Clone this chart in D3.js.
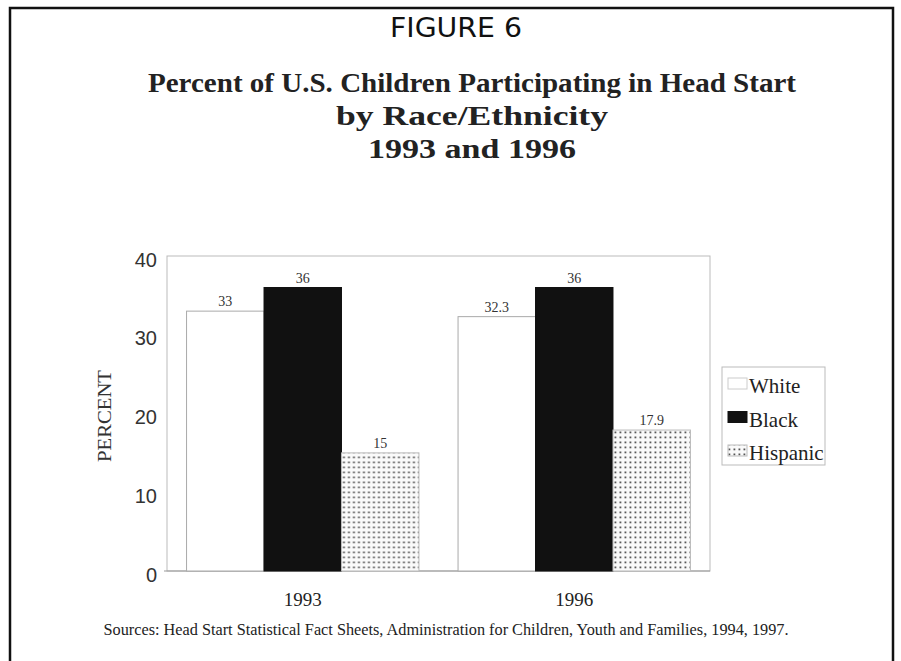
<!DOCTYPE html>
<html><head><meta charset="utf-8">
<script src="https://cdn.jsdelivr.net/npm/d3@7/dist/d3.min.js"></script>
<style>body{margin:0;background:#fff}svg{display:block}</style>
</head><body>
<script>
const years = ["1993", "1996"];
const groups = ["White", "Black", "Hispanic"];
const white = [33, 32.3];
const black = [36, 36];
const hispanic = [15, 17.9];
const valueLabels = [["33", "36", "15"], ["32.3", "36", "17.9"]];
const yTicks = [0, 10, 20, 30, 40];

(function () {
const W = 901, H = 661;
const serif = "'Liberation Serif',serif";
const svg = d3.select("body").append("svg").attr("width", W).attr("height", H);

const defs = svg.append("defs");
const pat = defs.append("pattern").attr("id", "dots").attr("patternUnits", "userSpaceOnUse")
  .attr("width", 5).attr("height", 5);
pat.append("rect").attr("width", 5).attr("height", 5).attr("fill", "#fafafa");
pat.append("rect").attr("x", 1.5).attr("y", 1.5).attr("width", 1.8).attr("height", 1.8).attr("fill", "#555");

// outer frame
svg.append("path").attr("d", `M10,${H} V8 H893 V${H}`).attr("fill", "none")
  .attr("stroke", "#111").attr("stroke-width", 2.5);

// titles
svg.append("text").attr("x", 456).attr("y", 37).attr("text-anchor", "middle")
  .attr("textLength", 132).attr("lengthAdjust", "spacingAndGlyphs")
  .style("font-family", "'DejaVu Sans',sans-serif").style("font-size", "26px")
  .attr("fill", "#111").text("FIGURE 6");
const tl = ["Percent of U.S. Children Participating in Head Start", "by Race/Ethnicity", "1993 and 1996"];
const tlLen = [648, 272, 208];
svg.selectAll("text.title").data(tl).join("text").attr("class", "title")
  .attr("x", 472).attr("y", (d, i) => 92 + i * 33).attr("text-anchor", "middle")
  .attr("textLength", (d, i) => tlLen[i]).attr("lengthAdjust", "spacingAndGlyphs")
  .style("font-family", serif).style("font-weight", "bold")
  .style("font-size", "27px").attr("fill", "#222").text(d => d);

const pLeft = 167, pRight = 710, pTop = 256, pBottom = 571;
const x0 = d3.scaleBand().domain(years).range([pLeft, pRight]).paddingInner(0.144).paddingOuter(0.072);
const x1 = d3.scaleBand().domain(groups).range([0, x0.bandwidth()]);
const y = d3.scaleLinear().domain([0, 40]).range([pBottom, pTop]);

// plot box
svg.append("rect").attr("x", pLeft).attr("y", pTop).attr("width", pRight - pLeft).attr("height", pBottom - pTop)
  .attr("fill", "none").attr("stroke", "#bbb").attr("stroke-width", 1);
svg.append("line").attr("x1", pLeft - 3).attr("x2", pRight).attr("y1", pBottom).attr("y2", pBottom)
  .attr("stroke", "#999").attr("stroke-width", 1.2);

// y tick labels
const yAxis = d3.axisLeft(y).tickValues(yTicks).tickSize(0).tickPadding(10);
const ya = svg.append("g").attr("transform", `translate(${pLeft},0)`).call(yAxis);
ya.select(".domain").remove();
ya.selectAll("text").attr("dy", "0.5em").style("font-family", "'Liberation Sans',Arial,sans-serif")
  .style("font-size", "20px").attr("fill", "#333");

// x labels
const xAxis = d3.axisBottom(x0).tickSize(0).tickPadding(22);
const xa = svg.append("g").attr("transform", `translate(0,${pBottom})`).call(xAxis);
xa.select(".domain").remove();
xa.selectAll("text").style("font-family", serif)
  .style("font-size", "19px").attr("fill", "#222");

const series = [white, black, hispanic];
const fills = ["#fff", "#111", "url(#dots)"];
const strokes = ["#aaa", "#111", "#bbb"];

years.forEach((yr, i) => {
  const g = svg.append("g").attr("transform", `translate(${x0(yr)},0)`);
  groups.forEach((grp, j) => {
    const v = series[j][i];
    g.append("rect").attr("x", x1(grp)).attr("y", y(v)).attr("width", x1.bandwidth())
      .attr("height", y(0) - y(v)).attr("fill", fills[j]).attr("stroke", strokes[j]).attr("stroke-width", 1);
    g.append("text").attr("x", x1(grp) + x1.bandwidth() / 2).attr("y", y(v) - 5)
      .attr("text-anchor", "middle").style("font-family", serif)
      .style("font-size", "14px").attr("fill", "#333").text(valueLabels[i][j]);
  });
});

// y label
svg.append("text").attr("transform", "translate(111,416) rotate(-90)").attr("text-anchor", "middle")
  .attr("textLength", 92).attr("lengthAdjust", "spacingAndGlyphs")
  .style("font-family", serif).style("font-size", "19px")
  .attr("fill", "#333").text("PERCENT");

// legend
const lg = svg.append("g").attr("transform", "translate(722,367)");
lg.append("rect").attr("width", 103).attr("height", 98).attr("fill", "#fff").attr("stroke", "#bbb");
groups.forEach((grp, j) => {
  const base = 26 + j * 33.5;
  lg.append("rect").attr("x", 6).attr("y", base - 15).attr("width", 19).attr("height", 11)
    .attr("fill", fills[j]).attr("stroke", j === 0 ? "#ccc" : strokes[j]);
  lg.append("text").attr("x", 27).attr("y", base).style("font-family", serif)
    .style("font-size", "21px").attr("fill", "#222").text(grp);
});

// source
svg.append("text").attr("x", 446).attr("y", 635).attr("text-anchor", "middle")
  .attr("textLength", 685).attr("lengthAdjust", "spacingAndGlyphs")
  .style("font-family", serif).style("font-size", "16px")
  .attr("fill", "#222")
  .text("Sources: Head Start Statistical Fact Sheets, Administration for Children, Youth and Families, 1994, 1997.");
})();
</script>
</body></html>
